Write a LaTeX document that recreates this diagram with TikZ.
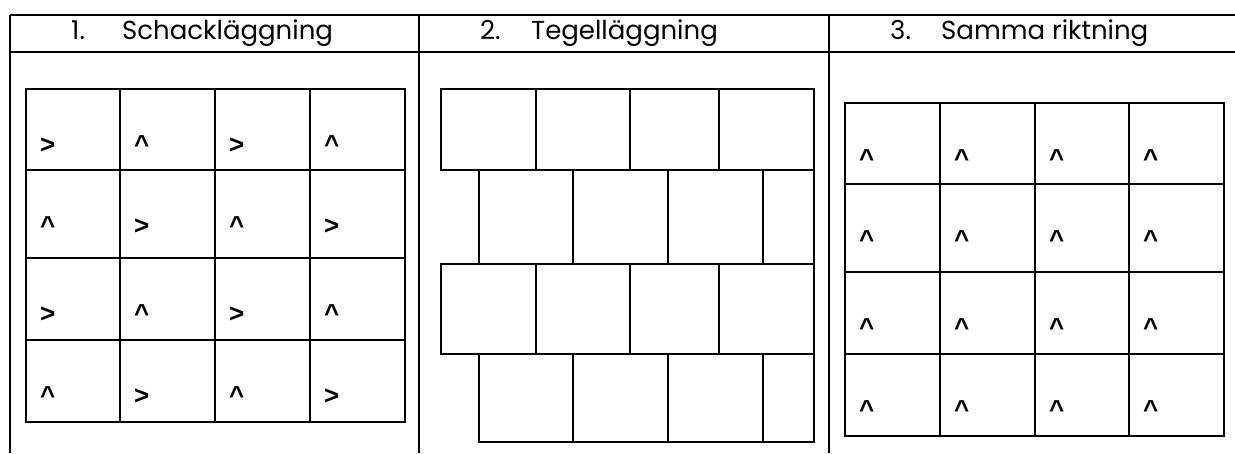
\documentclass[tikz,border=0pt]{standalone}
\usepackage{fontspec}
\setmainfont{Poppins}
\newfontfamily\symfont{Liberation Sans}
\begin{document}
\begin{tikzpicture}[
    x=1pt, y=-1pt,
    rule/.style={line width=2pt},
    tile/.style={draw, line width=2pt, line cap=rect},
    heading/.style={anchor=base west, inner sep=0pt, font=\fontsize{26}{30}\selectfont},
    dirsym/.style={anchor=base west, inner sep=0pt, font=\symfont\bfseries\fontsize{26}{30}\selectfont}
]
    \useasboundingbox (0,0) rectangle (1235,453);
    % table frame
    \draw[rule] (10,15) -- (1235,15);
    \draw[rule] (10,52) -- (1235,52);
    \foreach \x in {10,419,829}
        \draw[rule] (\x,15) -- (\x,453);
    \node[heading] (h1) at (71,39.5) {\makebox[51pt][l]{1.}Schackläggning};
    \node[heading] (h2) at (480,39.5) {\makebox[51pt][l]{2.}Tegelläggning};
    \node[heading] (h3) at (890,39.5) {\makebox[51pt][l]{3.}Samma riktning};
    % 1. Schackläggning
    \foreach \ya/\yb [count=\i] in {89/170,170/258,258/340,340/422}
        \foreach \xa/\xb [count=\j] in {26/120,120/215,215/310,310/405} {
            \draw[tile] (\xa,\ya) rectangle (\xb,\yb);
            \node[dirsym] (a\i\j) at (\xa+14,\ya+64)
                {\ifodd\numexpr\i+\j\relax\textasciicircum\else>\fi};
        }
    % 2. Tegelläggning
    \foreach \ya/\yb in {89/170,264/354}
        \foreach \xa/\xb in {441/536,536/630,630/719,719/814}
            \draw[tile] (\xa,\ya) rectangle (\xb,\yb);
    \foreach \ya/\yb in {170/264,354/442}
        \foreach \xa/\xb in {479/573,573/668,668/763,763/814}
            \draw[tile] (\xa,\ya) rectangle (\xb,\yb);
    % 3. Samma riktning
    \foreach \ya/\yb [count=\i] in {103/184,184/272,272/354,354/436}
        \foreach \xa/\xb [count=\j] in {845/940,940/1035,1035/1129,1129/1224} {
            \draw[tile] (\xa,\ya) rectangle (\xb,\yb);
            \node[dirsym] (c\i\j) at (\xa+14,\ya+64) {\textasciicircum};
        }
\end{tikzpicture}
\end{document}
